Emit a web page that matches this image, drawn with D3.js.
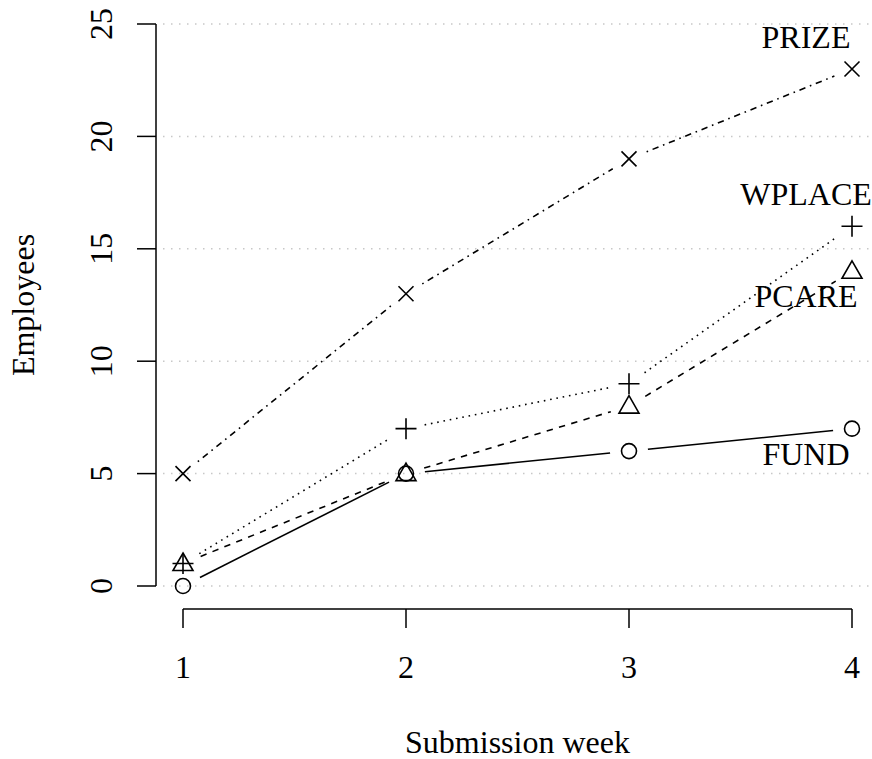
<!DOCTYPE html>
<html>
<head>
<meta charset="utf-8">
<script src="https://cdn.jsdelivr.net/npm/d3@7"></script>
<style>
  body { margin: 0; background: #fff; }
  svg { display: block; font-family: "Liberation Serif", "Times New Roman", serif; }
</style>
</head>
<body>
<div id="chart"></div>
<script>
const weeks = [1, 2, 3, 4]
const yTicks = [0, 5, 10, 15, 20, 25]

const fund = [0, 5, 6, 7]
const pcare = [1, 5, 8, 14]
const wplace = [1, 7, 9, 16]
const prize = [5, 13, 19, 23]

const series = [
  {name: "FUND", values: fund, shape: "circle", dash: null, labelPos: "below"},
  {name: "PCARE", values: pcare, shape: "triangle", dash: "6.4 6.4", labelPos: "below"},
  {name: "WPLACE", values: wplace, shape: "plus", dash: "1.6 4.8", labelPos: "above"},
  {name: "PRIZE", values: prize, shape: "cross", dash: "1.6 4.8 6.4 4.8", labelPos: "above"}
]

const width = 872
const height = 759

const x = d3.scaleLinear().domain([1, 4]).range([183, 852])
const y = d3.scaleLinear().domain([0, 25]).range([586, 24])

const svg = d3.select("#chart")
  .append("svg")
  .attr("width", width)
  .attr("height", height)
  .style("font-size", "32px")

// grid
svg.append("g")
  .selectAll("line")
  .data(yTicks)
  .join("line")
    .attr("x1", 163).attr("x2", 870)
    .attr("y1", d => y(d)).attr("y2", d => y(d))
    .attr("stroke", "#c8c8c8")
    .attr("stroke-width", 1.5)
    .attr("stroke-dasharray", "1.5 6.5")

// y axis
const yAxis = svg.append("g")
yAxis.append("line")
  .attr("x1", 156).attr("x2", 156)
  .attr("y1", y(0)).attr("y2", y(25))
  .attr("stroke", "#000").attr("stroke-width", 1.5)
yAxis.selectAll(".tick")
  .data(yTicks)
  .join("line")
    .attr("x1", 137).attr("x2", 156)
    .attr("y1", d => y(d)).attr("y2", d => y(d))
    .attr("stroke", "#000").attr("stroke-width", 1.5)
yAxis.selectAll("text")
  .data(yTicks)
  .join("text")
    .attr("transform", d => `translate(112,${y(d)}) rotate(-90)`)
    .attr("text-anchor", "middle")
    .text(d => d)

// x axis
const xAxis = svg.append("g")
xAxis.append("line")
  .attr("x1", x(1)).attr("x2", x(4))
  .attr("y1", 609).attr("y2", 609)
  .attr("stroke", "#000").attr("stroke-width", 1.5)
xAxis.selectAll(".tick")
  .data(weeks)
  .join("line")
    .attr("x1", d => x(d)).attr("x2", d => x(d))
    .attr("y1", 609).attr("y2", 628)
    .attr("stroke", "#000").attr("stroke-width", 1.5)
xAxis.selectAll("text")
  .data(weeks)
  .join("text")
    .attr("x", d => x(d))
    .attr("y", 678)
    .attr("text-anchor", "middle")
    .text(d => d)

// axis titles
svg.append("text")
  .attr("x", (x(1) + x(4)) / 2)
  .attr("y", 753)
  .attr("text-anchor", "middle")
  .text("Submission week")

svg.append("text")
  .attr("transform", `translate(34,${(y(0) + y(25)) / 2}) rotate(-90)`)
  .attr("text-anchor", "middle")
  .text("Employees")

// lines with gaps around points (type = "b")
const gap = 19
series.forEach(s => {
  const pts = weeks.map((w, i) => [x(w), y(s.values[i])])
  const segs = d3.pairs(pts).map(([a, b]) => {
    const dx = b[0] - a[0], dy = b[1] - a[1]
    const len = Math.hypot(dx, dy)
    const ux = dx / len, uy = dy / len
    return [[a[0] + ux * gap, a[1] + uy * gap], [b[0] - ux * gap, b[1] - uy * gap]]
  })
  svg.append("g")
    .selectAll("line")
    .data(segs)
    .join("line")
      .attr("x1", d => d[0][0]).attr("y1", d => d[0][1])
      .attr("x2", d => d[1][0]).attr("y2", d => d[1][1])
      .attr("stroke", "#000")
      .attr("stroke-width", 1.6)
      .attr("stroke-dasharray", s.dash)

  const g = svg.append("g")
    .attr("fill", "none")
    .attr("stroke", "#000")
    .attr("stroke-width", 1.6)
  pts.forEach(([px, py]) => {
    if (s.shape === "circle") {
      g.append("circle").attr("cx", px).attr("cy", py).attr("r", 7.5)
    } else if (s.shape === "triangle") {
      const r = 10
      g.append("path")
        .attr("d", `M${px},${py - r * 1.05}L${px + r},${py + r * 0.7}L${px - r},${py + r * 0.7}Z`)
    } else if (s.shape === "plus") {
      const r = 10.5
      g.append("path").attr("d", `M${px - r},${py}H${px + r}M${px},${py - r}V${py + r}`)
    } else {
      const r = 7.5
      g.append("path").attr("d", `M${px - r},${py - r}L${px + r},${py + r}M${px - r},${py + r}L${px + r},${py - r}`)
    }
  })

  const last = pts[pts.length - 1]
  svg.append("text")
    .attr("x", last[0] - 46)
    .attr("y", s.labelPos === "above" ? last[1] - 21 : last[1] + 36)
    .attr("text-anchor", "middle")
    .text(s.name)
})
</script>
</body>
</html>
